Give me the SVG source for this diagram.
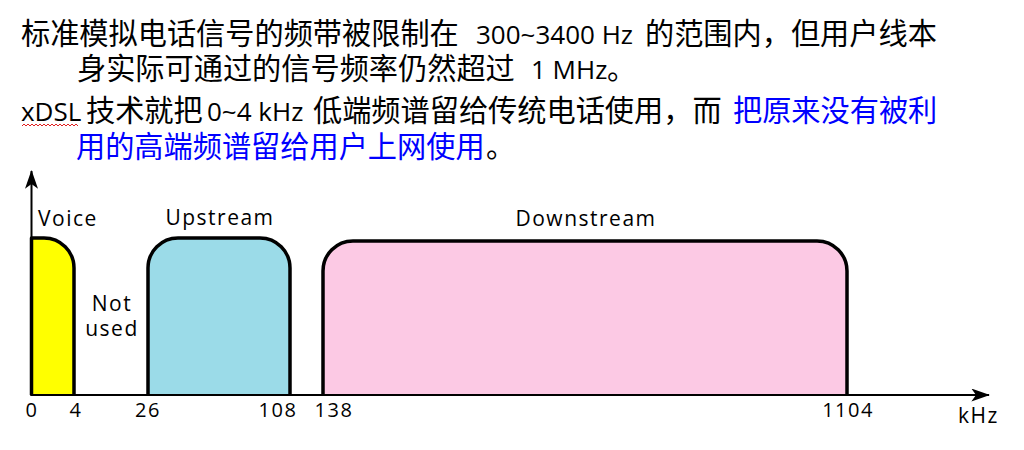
<svg xmlns="http://www.w3.org/2000/svg" width="1024" height="450" viewBox="0 0 1024 450">
<style>
.cjk{font-family:"Noto Sans CJK SC",sans-serif;font-size:29.2px;fill:#000}
.lat{font-family:"Open Sans","Noto Sans",sans-serif;font-size:26px;fill:#000}
.blue{fill:#0000FF}
.lbl{font-family:"Open Sans","Noto Sans",sans-serif;font-size:21px;fill:#000;letter-spacing:1.5px}
.num{font-family:"Open Sans","Noto Sans",sans-serif;font-size:20px;fill:#000;letter-spacing:1.5px;text-anchor:middle}
.band{stroke:#000;stroke-width:3.5;stroke-linejoin:round}
.axis{stroke:#000;stroke-width:2;fill:none}
</style>
<defs>
<marker id="arr" viewBox="0 0 20 14" refX="19" refY="7" markerWidth="20" markerHeight="13" markerUnits="userSpaceOnUse" orient="auto">
<path d="M0,0 L20,7 L0,14 L5,7 Z" fill="#000"/>
</marker>
</defs>
<rect width="1024" height="450" fill="#fff"/>

<g id="header">
<text y="44"><tspan class="cjk" x="21">标准模拟电话信号的频带被限制在</tspan><tspan class="lat" x="476">300~3400 Hz</tspan><tspan class="cjk" x="645">的范围内，但用户线本</tspan></text>
<text y="79"><tspan class="cjk" x="77">身实际可通过的信号频率仍然超过</tspan><tspan class="lat" x="531">1 MHz</tspan><tspan class="cjk" x="607">。</tspan></text>
<text y="121"><tspan class="lat" x="21">xDSL</tspan><tspan class="cjk" x="86">技术就把</tspan><tspan class="lat" x="207">0~4 kHz</tspan><tspan class="cjk" x="313">低端频谱留给传统电话使用，而</tspan><tspan class="cjk blue" x="733">把原来没有被利</tspan></text>
<text y="157"><tspan class="cjk blue" x="76">用的高端频谱留给用户上网使用</tspan><tspan class="cjk" x="486">。</tspan></text>
<path d="M22,126 l2,-2 l2,2 l2,-2 l2,2 l2,-2 l2,2 l2,-2 l2,2 l2,-2 l2,2 l2,-2 l2,2 l2,-2 l2,2 l2,-2 l2,2 l2,-2 l2,2 l2,-2 l2,2 l2,-2 l2,2 l2,-2 l2,2 l2,-2 l2,2 l2,-2 l2,2" fill="none" stroke="#e02020" stroke-width="1"/>
</g>

<g id="voice">
<path class="band" d="M31.5,395 V238 H44 A30,30 0 0 1 74,268 V395" fill="#FFFF00"/>
<text class="lbl" x="38" y="226">Voice</text>
</g>

<g id="not-used">
<text class="lbl" x="112" y="311" text-anchor="middle">Not</text>
<text class="lbl" x="112" y="336" text-anchor="middle">used</text>
</g>

<g id="upstream">
<path class="band" d="M148,395 V268 A30,30 0 0 1 178,238 H260 A30,30 0 0 1 290,268 V395" fill="#9BDBE8"/>
<text class="lbl" x="220" y="225" text-anchor="middle">Upstream</text>
</g>

<g id="downstream">
<path class="band" d="M323,395 V271 A30,30 0 0 1 353,241 H817 A30,30 0 0 1 847,271 V395" fill="#FCC9E4"/>
<text class="lbl" x="586" y="226" text-anchor="middle">Downstream</text>
</g>

<g id="connectors">
<line class="axis" x1="31.5" y1="396" x2="31.5" y2="171" marker-end="url(#arr)"/>
<line class="axis" x1="30.5" y1="395" x2="989" y2="395" marker-end="url(#arr)"/>
</g>

<g id="axis-labels">
<text class="num" x="32" y="417">0</text>
<text class="num" x="76" y="417">4</text>
<text class="num" x="148" y="417">26</text>
<text class="num" x="278" y="417">108</text>
<text class="num" x="334" y="417">138</text>
<text class="num" x="848" y="417">1104</text>
<text class="lbl" x="958" y="423">kHz</text>
</g>
</svg>
